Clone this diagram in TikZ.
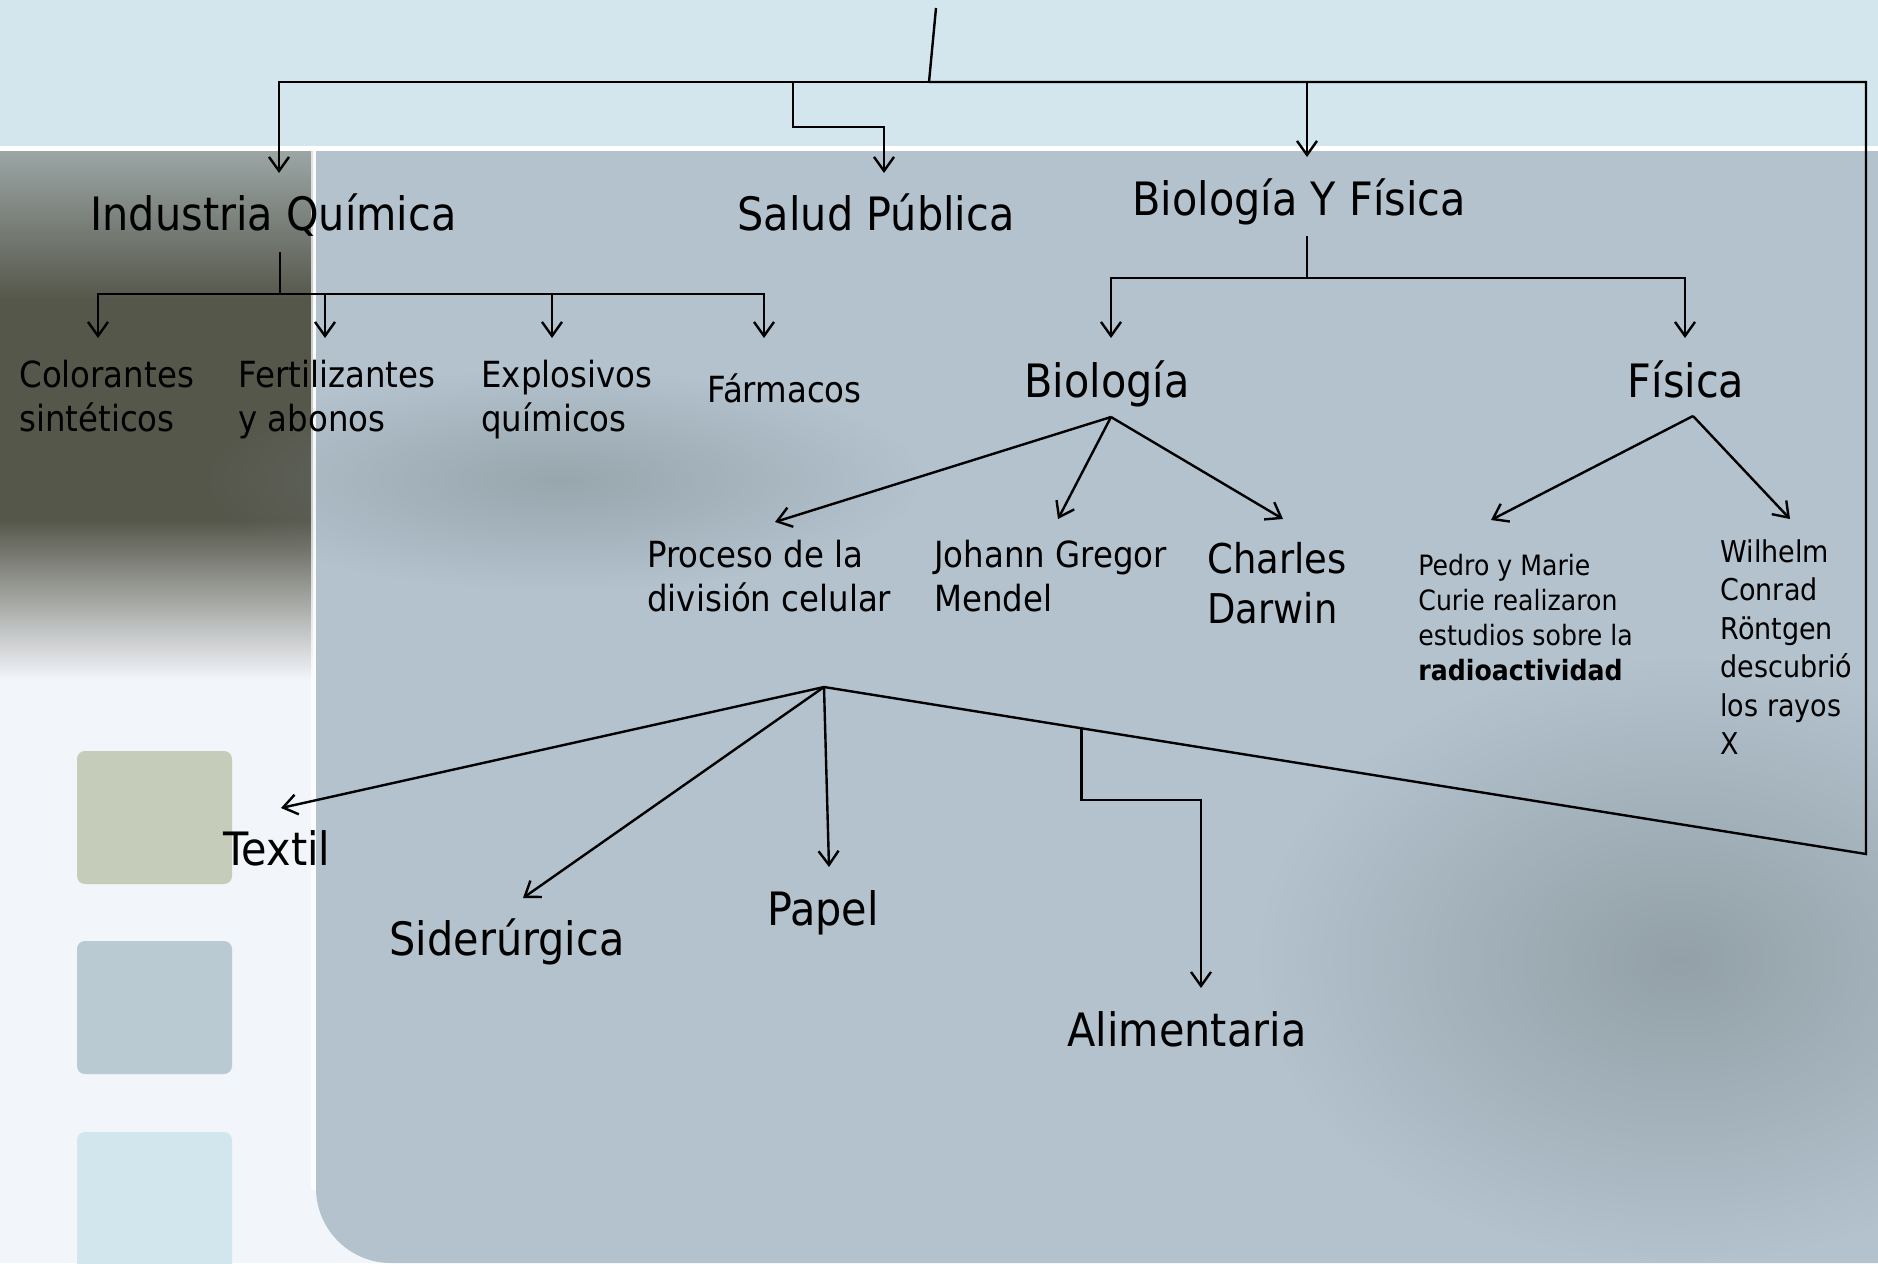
\documentclass[tikz,border=0pt]{standalone}
\usepackage{fontspec}
\setmainfont[FakeStretch=0.9]{DejaVu Sans}
\usetikzlibrary{positioning, arrows.meta, calc, fadings}

\definecolor{fondoclaro}{HTML}{F2F5FA}
\definecolor{franja}{HTML}{D3E6EE}
\definecolor{panel}{HTML}{B3C2CD}
\definecolor{sombra}{HTML}{7E8A8F}
\definecolor{oscuro}{HTML}{56574B}
\definecolor{cuadroA}{HTML}{C6CCBA}
\definecolor{cuadroB}{HTML}{BACAD3}
\definecolor{cuadroC}{HTML}{D2E6EE}

\tikzfading[name=difuso, inner color=transparent!0, outer color=transparent!100]

\tikzset{
  grande/.style={font=\fontsize{23}{27}\selectfont, inner sep=0pt, anchor=base},
  media/.style={font=\fontsize{18}{22}\selectfont, inner sep=0pt, align=left, anchor=north west},
  mediana/.style={font=\fontsize{20.5}{25}\selectfont, inner sep=0pt, align=left, anchor=north west},
  chica/.style={font=\fontsize{14}{17.5}\selectfont, inner sep=0pt, align=left, anchor=north west},
  chicab/.style={font=\fontsize{15}{19.25}\selectfont, inner sep=0pt, align=left, anchor=north west},
  linea/.style={line width=1.2pt, black},
}

\begin{document}
\begin{tikzpicture}[x=0.5pt, y=-0.5pt, >={Straight Barb[length=7pt,width=10pt]}]
\useasboundingbox (0,0) rectangle (1878,1263);
\clip (0,0) rectangle (1878,1263);

% fondo de la diapositiva
\fill[fondoclaro] (0,0) rectangle (1878,1263);
\shade[top color=oscuro!45!franja, bottom color=oscuro] (0,151) rectangle (313,300);
\fill[oscuro] (0,299) rectangle (313,521);
\shade[top color=oscuro, bottom color=fondoclaro] (0,520) rectangle (313,680);
\fill[panel, rounded corners=37.5pt] (316,60) rectangle (2000,1263);
\fill[sombra, opacity=.5, path fading=difuso] (560,480) ellipse [x radius=360, y radius=110];
\fill[sombra, opacity=.6, path fading=difuso] (1680,960) ellipse [x radius=420, y radius=300];
\fill[franja] (0,0) rectangle (1878,146);
\fill[white] (0,146) rectangle (1878,151);
\fill[white, opacity=.7] (311,151) rectangle (316,1190);
\fill[cuadroA, rounded corners=4pt] (77,751) rectangle (232,884);
\fill[cuadroB, rounded corners=4pt] (77,941) rectangle (232,1074);
\fill[cuadroC, rounded corners=4pt] (77,1132) rectangle (232,1290);

% nodos
\node[grande] (industria) at (273.5,230) {Industria Química};
\node[grande] (salud) at (876,230) {Salud Pública};
\node[grande] (biofis) at (1299,215) {Biología Y Física};

\node[media] (colorantes) at (19,359.6) {Colorantes\\sintéticos};
\node[media] (fertilizantes) at (238,359.6) {Fertilizantes\\y abonos};
\node[media] (explosivos) at (481,359.6) {Explosivos\\químicos};
\node[media, anchor=base] (farmacos) at (784.5,402) {Fármacos};

\node[grande] (biologia) at (1107,397) {Biología};
\node[grande] (fisica) at (1686,397) {Física};

\node[media] (proceso) at (647,539.6) {Proceso de la\\división celular};
\node[media] (mendel) at (934,539.6) {Johann Gregor\\Mendel};
\node[mediana] (darwin) at (1207,541.8) {Charles\\Darwin};
\node[chica] (curie) at (1418,553.7) {Pedro y Marie\\Curie realizaron\\estudios sobre la\\\textbf{radioactividad}};
\node[chicab] (rontgen) at (1720,539.2) {Wilhelm\\Conrad\\Röntgen\\descubrió\\los rayos\\X};

\node[grande] (textil) at (277,865) {Textil};
\node[grande] (siderurgica) at (507,955) {Siderúrgica};
\node[grande] (papel) at (823,925) {Papel};
\node[grande] (alimentaria) at (1187,1046) {Alimentaria};

% puntos de union
\coordinate (raiz) at (936,8);
\coordinate (barra) at (929,82);
\coordinate (esquina) at (1866,854);
\coordinate (fanbajo) at (824,687);
\coordinate (iq) at ($(industria.base)+(6.5,22)$);
\coordinate (bf) at ($(biofis.base)+(8,21)$);
\coordinate (bfan) at ($(biologia.base)+(4,20)$);
\coordinate (ffan) at ($(fisica.base)+(7,19)$);
\coordinate (ramal) at ($(esquina)!0.753!(fanbajo)$);

% conectores
\draw[linea] (raiz) -- (barra);
\draw[linea,->] (barra) -| ($(industria.base)+(5.5,-57)$);
\draw[linea,->] ($(salud.base)+(-83,-148)$) |- ($(salud.base)+(8,-103)$) -- ($(salud.base)+(8,-57)$);
\draw[linea,->] ($(biofis.base |- barra)+(8,0)$) -- ($(biofis.base)+(8,-58)$);
\draw[linea] (barra) -- (barra -| esquina) -- (esquina) -- (fanbajo);

\draw[linea] (iq) -- ++(0,42) coordinate (iqbar);
\draw[linea,->] (iqbar) -| ($(colorantes.north west)+(79,-21.6)$);
\draw[linea,->] (iqbar) -| ($(fertilizantes.north west)+(87,-21.6)$);
\draw[linea,->] (iqbar) -| ($(explosivos.north west)+(71,-21.6)$);
\draw[linea,->] (iqbar) -| ($(farmacos.base)+(-20.5,-64)$);

\draw[linea] (bf) -- ++(0,42) coordinate (bfbar);
\draw[linea,->] (bfbar) -| ($(biologia.base)+(4,-59)$);
\draw[linea,->] (bfbar) -| ($(fisica.base)+(-1,-59)$);

\draw[linea,->] (bfan) -- ($(proceso.north west)+(128,-17.6)$);
\draw[linea,->] (bfan) -- ($(mendel.north west)+(124,-20.6)$);
\draw[linea,->] (bfan) -- ($(darwin.north west)+(76,-22.8)$);
\draw[linea,->] (ffan) -- ($(curie.north west)+(73,-33.7)$);
\draw[linea,->] (ffan) -- ($(rontgen.north west)+(70,-20.2)$);

\draw[linea,->] (fanbajo) -- ($(textil.base)+(4,-57)$);
\draw[linea,->] (fanbajo) -- ($(siderurgica.base)+(16,-57)$);
\draw[linea,->] (fanbajo) -- ($(papel.base)+(6,-58)$);
\draw[linea,->] (ramal) |- ($(alimentaria.base)+(14,-246)$) -- ($(alimentaria.base)+(14,-58)$);
\end{tikzpicture}
\end{document}
